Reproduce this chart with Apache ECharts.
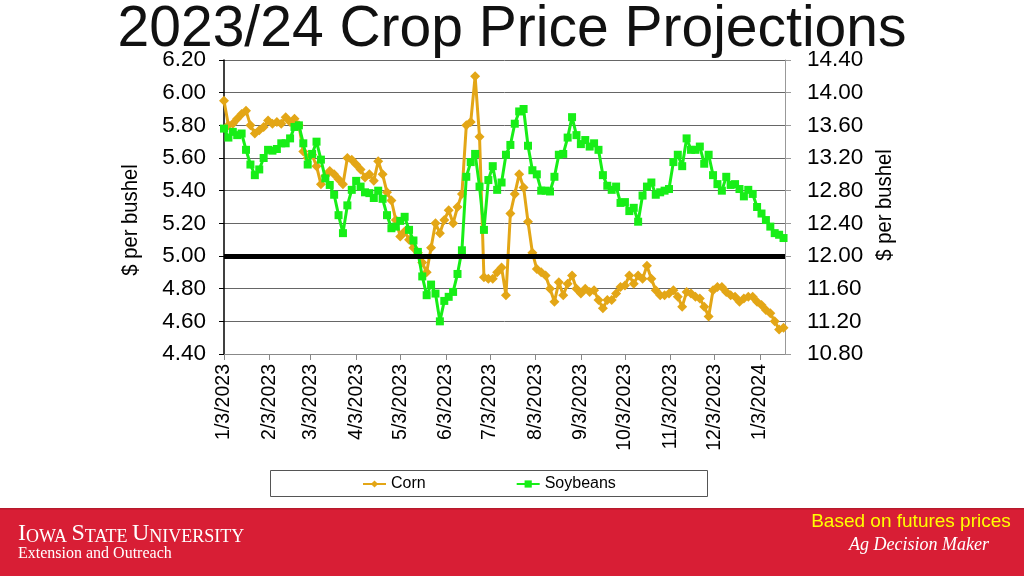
<!DOCTYPE html>
<html>
<head>
<meta charset="utf-8">
<script src="https://cdn.jsdelivr.net/npm/echarts@6/dist/echarts.min.js"></script>
<style>
html,body{margin:0;padding:0;background:#fff;}
#chart{width:1024px;height:576px;}
</style>
</head>
<body>
<div id="chart"></div>
<script>
// ---- data ----
const dates = [
'2023-01-03','2023-01-06','2023-01-09','2023-01-12','2023-01-15','2023-01-18','2023-01-21','2023-01-24','2023-01-27','2023-01-30',
'2023-02-02','2023-02-05','2023-02-08','2023-02-11','2023-02-14','2023-02-17','2023-02-20','2023-02-23','2023-02-26','2023-03-01',
'2023-03-04','2023-03-07','2023-03-10','2023-03-13','2023-03-16','2023-03-19','2023-03-22','2023-03-25','2023-03-28','2023-03-31',
'2023-04-03','2023-04-06','2023-04-09','2023-04-12','2023-04-15','2023-04-18','2023-04-21','2023-04-24','2023-04-27','2023-04-30',
'2023-05-03','2023-05-06','2023-05-09','2023-05-12','2023-05-15','2023-05-18','2023-05-21','2023-05-24','2023-05-27','2023-05-30',
'2023-06-02','2023-06-05','2023-06-08','2023-06-11','2023-06-14','2023-06-17','2023-06-20','2023-06-23','2023-06-26','2023-06-29',
'2023-07-02','2023-07-05','2023-07-08','2023-07-11','2023-07-14','2023-07-17','2023-07-20','2023-07-23','2023-07-26','2023-07-29',
'2023-08-01','2023-08-04','2023-08-07','2023-08-10','2023-08-13','2023-08-16','2023-08-19','2023-08-22','2023-08-25','2023-08-28','2023-08-31',
'2023-09-03','2023-09-06','2023-09-09','2023-09-12','2023-09-15','2023-09-18','2023-09-21','2023-09-24','2023-09-27','2023-09-30',
'2023-10-03','2023-10-06','2023-10-09','2023-10-12','2023-10-15','2023-10-18','2023-10-21','2023-10-24','2023-10-27','2023-10-30',
'2023-11-02','2023-11-05','2023-11-08','2023-11-11','2023-11-14','2023-11-17','2023-11-20','2023-11-23','2023-11-26','2023-11-29',
'2023-12-02','2023-12-05','2023-12-08','2023-12-11','2023-12-14','2023-12-17','2023-12-20','2023-12-23','2023-12-26','2023-12-29',
'2024-01-01','2024-01-04','2024-01-07','2024-01-10','2024-01-13','2024-01-16','2024-01-19'
];

const corn = [
5.95,5.80,5.81,5.84,5.87,5.89,5.80,5.75,5.77,5.79,
5.83,5.81,5.82,5.81,5.85,5.82,5.84,5.80,5.64,5.60,
5.62,5.55,5.44,5.49,5.52,5.50,5.47,5.44,5.60,5.59,
5.56,5.53,5.48,5.50,5.46,5.58,5.50,5.39,5.34,5.22,
5.12,5.15,5.10,5.05,5.02,4.96,4.90,5.05,5.20,5.14,
5.22,5.28,5.20,5.30,5.38,5.80,5.82,6.10,5.73,4.87,
4.86,4.86,4.90,4.93,4.76,5.26,5.38,5.50,5.42,5.21,
5.02,4.92,4.90,4.88,4.80,4.72,4.84,4.76,4.83,4.88,4.80,
4.77,4.80,4.78,4.79,4.73,4.68,4.73,4.73,4.77,4.81,
4.82,4.88,4.83,4.88,4.86,4.94,4.86,4.79,4.76,4.76,
4.77,4.79,4.75,4.69,4.78,4.77,4.75,4.74,4.69,4.63,
4.79,4.81,4.81,4.78,4.76,4.75,4.72,4.74,4.75,4.75,
4.72,4.70,4.67,4.65,4.60,4.55,4.56
];

const soybeans = [
13.56,13.45,13.52,13.48,13.50,13.30,13.12,12.99,13.06,13.20,
13.30,13.29,13.31,13.38,13.38,13.44,13.58,13.60,13.38,13.12,
13.25,13.40,13.18,12.95,12.87,12.75,12.50,12.28,12.62,12.81,
12.92,12.85,12.78,12.77,12.71,12.80,12.70,12.50,12.34,12.36,
12.43,12.48,12.32,12.19,12.05,11.75,11.52,11.65,11.54,11.20,
11.45,11.50,11.56,11.78,12.07,12.97,13.15,13.25,12.85,12.32,
12.93,13.10,12.81,12.90,13.24,13.36,13.62,13.77,13.80,13.35,
13.05,13.00,12.80,12.80,12.79,12.97,13.24,13.25,13.45,13.70,13.48,
13.37,13.42,13.34,13.38,13.30,12.99,12.86,12.81,12.85,12.65,
12.66,12.55,12.59,12.42,12.74,12.85,12.90,12.75,12.78,12.80,
12.82,13.15,13.24,13.10,13.44,13.30,13.30,13.34,13.13,13.24,
12.99,12.88,12.80,12.97,12.87,12.88,12.82,12.73,12.81,12.76,
12.60,12.52,12.44,12.36,12.28,12.26,12.22
];

const tickLabels = ['1/3/2023','2/3/2023','3/3/2023','4/3/2023','5/3/2023','6/3/2023','7/3/2023',
  '8/3/2023','9/3/2023','10/3/2023','11/3/2023','12/3/2023','1/3/2024'];
const xStart = '2023-01-03';
const xEnd = '2024-01-20';
const seriesNames = ['Corn', 'Soybeans'];
const referencePrice = 5.00;   // corn $/bu reference line
const titleText = '2023/24 Crop Price Projections';
const axisName = '$ per bushel';

// ---- helpers ----
const isoMs = s => { const [y, m, d] = s.split('-').map(Number); return Date.UTC(y, m - 1, d); };
const labelMs = s => { const [m, d, y] = s.split('/').map(Number); return Date.UTC(y, m - 1, d); };
const tickValues = tickLabels.map(labelMs);
const labelByMs = {};
tickValues.forEach((v, i) => { labelByMs[v] = tickLabels[i]; });

const cornData = dates.map((d, i) => [isoMs(d), corn[i]]);
const soyData = dates.map((d, i) => [isoMs(d), soybeans[i]]);

const FONT = '"Liberation Sans", Arial, sans-serif';
const CORN_COLOR = '#E3A616';
const SOY_COLOR = '#17EE17';

const chart = echarts.init(document.getElementById('chart'), null, {renderer: 'canvas'});

chart.setOption({
  animation: false,
  backgroundColor: '#fff',
  grid: {left: 224, top: 60, width: 561, height: 294, containLabel: false},
  legend: {
    data: seriesNames,
    left: 357, top: 471,
    itemWidth: 23, itemHeight: 9, itemGap: 90,
    textStyle: {fontSize: 16, fontFamily: FONT, color: '#000'}
  },
  xAxis: {
    type: 'value',
    min: isoMs(xStart), max: isoMs(xEnd),
    axisLine: {show: true, lineStyle: {color: '#888', width: 1}},
    axisTick: {show: true, customValues: tickValues, length: 6, lineStyle: {color: '#888'}},
    axisLabel: {
      customValues: tickValues, rotate: 90, margin: 10,
      formatter: v => labelByMs[v] || '',
      fontSize: 19.5, fontFamily: FONT, color: '#000'
    },
    splitLine: {show: false}
  },
  yAxis: [
    {
      type: 'value', position: 'left', min: 4.4, max: 6.2, interval: 0.2,
      axisLine: {show: true, onZero: false, lineStyle: {color: '#000', width: 1.5}},
      axisTick: {show: true, length: 5, lineStyle: {color: '#000'}},
      axisLabel: {formatter: v => v.toFixed(2), fontSize: 22.5, fontFamily: FONT, color: '#000', margin: 18},
      splitLine: {show: true, lineStyle: {color: '#666', width: 1}}
    },
    {
      type: 'value', position: 'right', min: 10.8, max: 14.4, interval: 0.4,
      axisLine: {show: true, onZero: false, lineStyle: {color: '#999', width: 1}},
      axisTick: {show: true, length: 6, lineStyle: {color: '#999'}},
      axisLabel: {formatter: v => v.toFixed(2), fontSize: 22.5, fontFamily: FONT, color: '#000', margin: 22},
      splitLine: {show: false}
    }
  ],
  series: [
    {
      name: seriesNames[0], type: 'line', yAxisIndex: 0, data: cornData,
      symbol: 'diamond', symbolSize: 10, showAllSymbol: true,
      lineStyle: {color: CORN_COLOR, width: 3},
      itemStyle: {color: CORN_COLOR, borderWidth: 0},
      z: 2
    },
    {
      name: seriesNames[1], type: 'line', yAxisIndex: 1, data: soyData,
      symbol: 'rect', symbolSize: 8, showAllSymbol: true,
      lineStyle: {color: SOY_COLOR, width: 3},
      itemStyle: {color: SOY_COLOR, borderWidth: 0},
      z: 3,
      markLine: {
        silent: true, symbol: 'none', z: 10,
        label: {show: false},
        lineStyle: {color: '#000', width: 5, type: 'solid'},
        data: [{yAxis: referencePrice * 2 + 2}]
      }
    }
  ],
  graphic: [
    {type: 'text', x: 512, y: 30, style: {text: titleText, font: '57px "Liberation Sans", Arial, sans-serif', fill: '#111', align: 'center', verticalAlign: 'middle'}},
    {type: 'text', x: 131, y: 220, rotation: Math.PI / 2, scaleX: 0.92, style: {text: axisName, font: '22px "Liberation Sans", sans-serif', fill: '#000', align: 'center', verticalAlign: 'middle'}},
    {type: 'text', x: 885, y: 205, rotation: Math.PI / 2, scaleX: 0.92, style: {text: axisName, font: '22px "Liberation Sans", sans-serif', fill: '#000', align: 'center', verticalAlign: 'middle'}},
    {type: 'rect', shape: {x: 270.5, y: 470.5, width: 437, height: 26}, style: {fill: 'none', stroke: '#555', lineWidth: 1}, z: -1},
    {type: 'rect', shape: {x: 0, y: 508, width: 1024, height: 68}, style: {fill: '#D81E35'}},
    {type: 'rect', shape: {x: 0, y: 508, width: 1024, height: 1.5}, style: {fill: '#B7192C'}},
    {type: 'text', x: 18, y: 546, style: {
      text: '{b|I}{s|OWA }{b|S}{s|TATE }{b|U}{s|NIVERSITY}',
      verticalAlign: 'bottom', align: 'left',
      rich: {
        b: {font: '24px "Liberation Serif", serif', fill: '#fff', verticalAlign: 'bottom'},
        s: {font: '18px "Liberation Serif", serif', fill: '#fff', verticalAlign: 'bottom'}
      }
    }},
    {type: 'text', x: 18, y: 554, style: {text: 'Extension and Outreach', font: '16px "Liberation Serif", serif', fill: '#fff', align: 'left', verticalAlign: 'middle'}},
    {type: 'text', x: 911, y: 522, style: {text: 'Based on futures prices', font: '19px "Liberation Sans", Arial, sans-serif', fill: '#FFFF00', align: 'center', verticalAlign: 'middle'}},
    {type: 'text', x: 919, y: 545, style: {text: 'Ag Decision Maker', font: 'italic 18px "Liberation Serif", serif', fill: '#fff', align: 'center', verticalAlign: 'middle'}}
  ]
});
</script>
</body>
</html>
